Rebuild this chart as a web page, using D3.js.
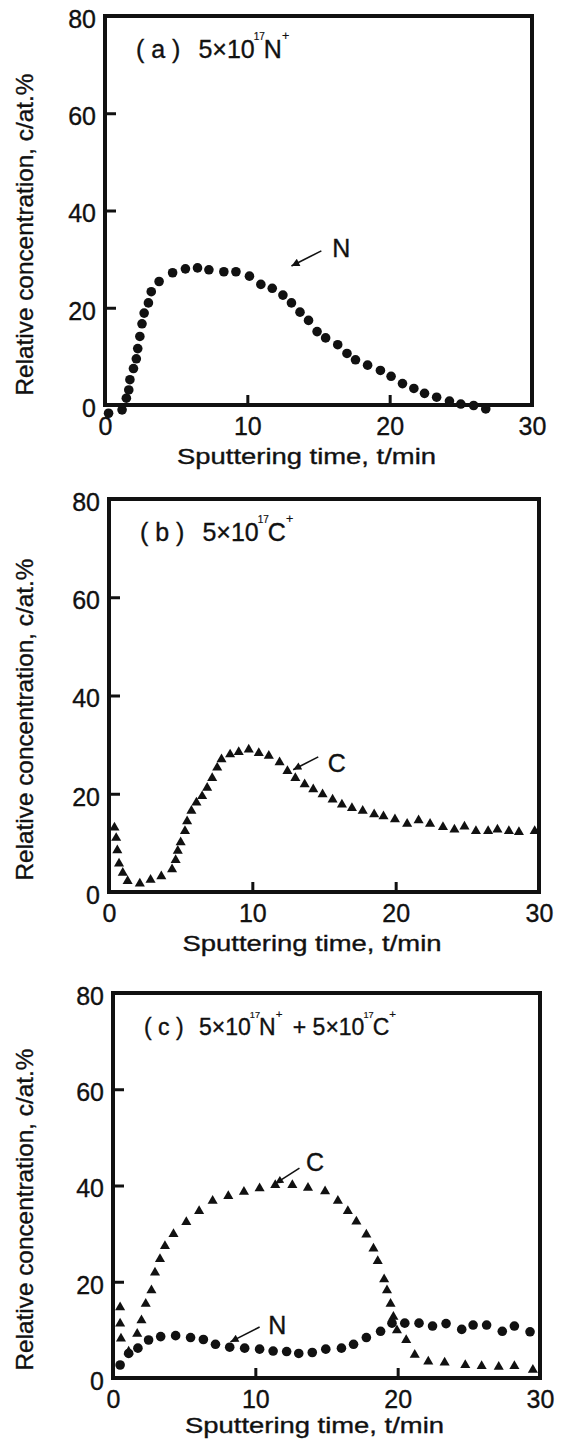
<!DOCTYPE html>
<html>
<head>
<meta charset="utf-8">
<script src="https://cdn.jsdelivr.net/npm/d3@7"></script>
<style>
    body { margin: 0; background: #fff; }
    svg { display: block; background: #fff; }
    text { font-family: 'Liberation Sans', Arial, sans-serif; fill: #111; stroke: #111; stroke-width: 0.35; }
    .frame { fill: none; stroke: #111; stroke-width: 4; }
    .axis .domain { display: none; }
    .axis line { stroke: #111; stroke-width: 3; }
    .axis text { font-size: 25px; }
    .mark { fill: #111; }
    .pointer { stroke: #111; stroke-width: 1.6; }
</style>
</head>
<body>
<svg id="svg" width="562" height="1440"></svg>
<script>
// (a) 5x10^17 N+ : nitrogen profile
const timeA = [0.25, 1.2, 1.5, 1.67, 1.75, 2.0, 2.2, 2.3, 2.45, 2.6, 2.75, 3.05, 3.25, 3.8, 4.75,
    5.65, 6.5, 7.3, 8.35, 9.2, 10.15, 10.95, 11.75, 12.5, 13.1, 13.7, 14.3, 14.9, 15.5, 16.35,
    17.0, 17.6, 18.45, 19.35, 20.1, 20.9, 21.7, 22.45, 23.3, 24.2, 25.0, 25.9, 26.75];
const nitrogenA = [-1.7, -1.0, 1.4, 3.1, 5.2, 7.5, 9.5, 11.6, 14.1, 16.7, 18.9, 21.0, 23.3, 25.4, 27.2,
    28.0, 28.2, 27.8, 27.4, 27.4, 26.5, 24.8, 24.0, 22.6, 21.0, 19.1, 17.4, 15.1, 13.8, 12.4,
    10.6, 9.3, 8.2, 7.1, 5.9, 4.4, 3.4, 2.4, 1.6, 0.8, 0.2, -0.1, -0.8];

// (b) 5x10^17 C+ : carbon profile
const timeB = [0.38, 0.5, 0.58, 0.7, 0.96, 1.3, 2.15, 2.9, 3.65, 4.4, 4.65, 4.8, 5.0, 5.3, 5.45,
    5.75, 6.1, 6.5, 6.85, 7.2, 7.55, 7.85, 8.45, 9.05, 9.75, 10.45, 11.15, 11.9, 12.45, 13.0,
    13.65, 14.25, 14.9, 15.6, 16.25, 16.95, 17.7, 18.5, 19.15, 19.95, 20.8, 21.6, 22.4, 23.3,
    24.1, 24.8, 25.6, 26.45, 27.1, 27.9, 28.6, 29.7];
const carbonB = [13.1, 11.0, 8.5, 5.8, 3.9, 2.2, 1.7, 2.5, 3.2, 4.6, 6.5, 8.4, 10.1, 12.4, 14.4,
    16.5, 18.2, 19.5, 21.2, 23.2, 25.3, 27.0, 28.0, 28.5, 29.0, 28.3, 27.7, 26.4, 24.6, 23.2,
    21.9, 20.9, 19.9, 18.8, 17.8, 17.1, 16.5, 15.8, 15.4, 14.8, 13.9, 14.6, 13.9, 13.2,
    12.7, 13.3, 12.4, 12.4, 12.7, 12.4, 12.2, 12.4];

// (c) 5x10^17 N+ + 5x10^17 C+ : both profiles
const timeCC = [0.5, 0.5, 0.56, 1.1, 1.7, 2.0, 2.3, 2.7, 2.95, 3.3, 3.65, 4.25, 5.15, 6.05, 7.0,
    8.1, 9.2, 10.3, 11.4, 12.6, 13.7, 14.9, 15.8, 16.5, 17.1, 17.8, 18.3, 18.6, 19.05, 19.25,
    19.5, 19.7, 19.95, 20.6, 21.2, 22.15, 23.3, 24.75, 25.9, 27.1, 28.2, 29.5];
const carbonC = [14.7, 11.3, 8.2, 5.5, 9.2, 12.0, 15.4, 18.2, 21.9, 24.7, 27.4, 29.9, 32.4, 34.7, 36.8,
    37.8, 38.7, 39.4, 40.1, 40.1, 39.5, 38.8, 36.8, 34.7, 32.5, 29.8, 26.9, 24.3, 20.5, 18.2,
    15.4, 12.7, 9.9, 7.9, 4.8, 3.4, 3.2, 2.7, 2.5, 2.3, 2.5, 1.7];
const timeCN = [0.5, 1.1, 1.75, 2.5, 3.35, 4.4, 5.45, 6.35, 7.2, 8.2, 9.25, 10.3, 11.25, 12.2, 13.05,
    14.0, 14.95, 16.05, 16.9, 17.8, 18.8, 19.6, 20.5, 21.5, 22.45, 23.4, 24.5, 25.3, 26.25,
    27.35, 28.2, 29.3];
const nitrogenC = [2.7, 5.1, 6.2, 7.9, 8.6, 8.8, 8.4, 8.0, 7.0, 6.4, 6.2, 6.0, 5.6, 5.5, 5.1,
    5.3, 6.0, 6.2, 7.0, 8.4, 9.7, 11.4, 11.4, 11.4, 10.8, 11.3, 10.1, 11.0, 11.0,
    9.7, 10.8, 9.6];

// axes
const xTicks = [0, 10, 20, 30];
const yTicks = [0, 20, 40, 60, 80];
const xTitle = 'Sputtering time, t/min';
const yTitle = 'Relative concentration, c/at.%';

// arrow labels: [label, textX, textY, fromX, fromY, toX, toY] in data units
const notesA = [['N', 16.6, 32.3, 15.2, 31.7, 13.1, 28.6]];
const notesB = [['C', 15.9, 26.3, 14.6, 27.5, 12.85, 24.9]];
const notesC = [['C', 14.2, 44.8, 13.1, 43.6, 11.4, 40.4], ['N', 11.55, 11.0, 10.3, 10.6, 8.25, 7.5]];

// panel titles, sup = superscript
const titleA = [{t: '( a ) '}, {t: '5×10', dx: 11}, {sup: '17'}, {t: 'N', dx: -1}, {sup: '+'}];
const titleB = [{t: '( b ) '}, {t: '5×10', dx: 11}, {sup: '17'}, {t: 'C', dx: -1}, {sup: '+'}];
const titleC = [{t: '( c ) '}, {t: '5×10', dx: 9}, {sup: '17'}, {t: 'N', dx: -1}, {sup: '+'},
    {t: ' + 5×10', dx: 4}, {sup: '17'}, {t: 'C', dx: -1}, {sup: '+'}];

const panels = [
    {left: 105, right: 532, top: 16, bottom: 405, title: titleA, titleSize: 25, notes: notesA,
        series: [{x: timeA, y: nitrogenA, shape: 'circle'}]},
    {left: 109, right: 539, top: 499, bottom: 892, title: titleB, titleSize: 25, notes: notesB,
        series: [{x: timeB, y: carbonB, shape: 'triangle'}]},
    {left: 113, right: 540, top: 993, bottom: 1378, title: titleC, titleSize: 23, notes: notesC,
        series: [{x: timeCC, y: carbonC, shape: 'triangle'}, {x: timeCN, y: nitrogenC, shape: 'circle'}]},
];

const svg = d3.select('#svg');

svg.append('defs').append('marker')
    .attr('id', 'arrow')
    .attr('viewBox', '0 0 10 10')
    .attr('refX', 10)
    .attr('refY', 5)
    .attr('markerWidth', 11)
    .attr('markerHeight', 8)
    .attr('markerUnits', 'userSpaceOnUse')
    .attr('orient', 'auto')
  .append('path')
    .attr('d', 'M0,0L10,5L0,10Z')
    .attr('fill', '#111');

const triangle = d3.symbol().type(d3.symbolTriangle).size(44);

panels.forEach(p => {
    const g = svg.append('g');
    const x = d3.scaleLinear().domain([0, 30]).range([p.left, p.right]);
    const y = d3.scaleLinear().domain([0, 80]).range([p.bottom, p.top]);

    // inward ticks, left and bottom only
    const yAxis = g.append('g')
        .attr('class', 'axis')
        .attr('transform', 'translate(' + p.left + ',0)')
        .call(d3.axisLeft(y).tickValues(yTicks).tickSize(-11).tickPadding(9));
    yAxis.selectAll('text').attr('dy', '0.45em');

    const xAxis = g.append('g')
        .attr('class', 'axis')
        .attr('transform', 'translate(0,' + p.bottom + ')')
        .call(d3.axisBottom(x).tickValues(xTicks).tickSize(-10).tickPadding(12));

    yAxis.selectAll('.tick line').filter(d => d === 0 || d === 80).remove();
    xAxis.selectAll('.tick line').filter(d => d === 0 || d === 30).remove();

    g.append('rect')
        .attr('class', 'frame')
        .attr('x', p.left)
        .attr('y', p.top)
        .attr('width', p.right - p.left)
        .attr('height', p.bottom - p.top);

    // axis titles
    g.append('text')
        .attr('transform', 'translate(33,' + ((p.top + p.bottom) / 2 + 24) + ') rotate(-90)')
        .attr('text-anchor', 'middle')
        .attr('font-size', 24)
        .attr('textLength', 322)
        .attr('lengthAdjust', 'spacingAndGlyphs')
        .text(yTitle);

    g.append('text')
        .attr('x', (p.left + p.right) / 2 - 12)
        .attr('y', Math.min(p.bottom + 59, 1433))
        .attr('text-anchor', 'middle')
        .attr('font-size', 22)
        .attr('textLength', 259)
        .attr('lengthAdjust', 'spacingAndGlyphs')
        .text(xTitle);

    // panel title with superscripts
    const s = p.titleSize;
    const title = g.append('text')
        .attr('x', p.left + 31)
        .attr('y', p.top + 42)
        .attr('font-size', s);
    let raised = false;
    p.title.forEach(part => {
        const span = title.append('tspan');
        if (part.sup) {
            span.attr('font-size', part.sup === '+' ? s * 0.5 : s * 0.4)
                .attr('dy', raised ? 0 : -s * 0.72)
                .attr('dx', part.sup === '+' ? 0 : -1)
                .attr('stroke-width', 0.2)
                .text(part.sup);
            raised = true;
        } else {
            span.attr('dy', raised ? s * 0.72 : 0)
                .attr('dx', part.dx || 0)
                .text(part.t);
            raised = false;
        }
    });

    // data
    p.series.forEach(ser => {
        const pts = ser.x.map((t, i) => [t, ser.y[i]]);
        if (ser.shape === 'circle') {
            g.append('g').selectAll('circle')
                .data(pts)
                .join('circle')
                .attr('class', 'mark')
                .attr('cx', d => x(d[0]))
                .attr('cy', d => y(d[1]))
                .attr('r', 4.8);
        } else {
            g.append('g').selectAll('path')
                .data(pts)
                .join('path')
                .attr('class', 'mark')
                .attr('transform', d => 'translate(' + x(d[0]) + ',' + y(d[1]) + ')')
                .attr('d', triangle);
        }
    });

    // element labels with arrows
    p.notes.forEach(n => {
        g.append('line')
            .attr('class', 'pointer')
            .attr('x1', x(n[3]))
            .attr('y1', y(n[4]))
            .attr('x2', x(n[5]))
            .attr('y2', y(n[6]))
            .attr('marker-end', 'url(#arrow)');
        g.append('text')
            .attr('x', x(n[1]))
            .attr('y', y(n[2]))
            .attr('text-anchor', 'middle')
            .attr('dy', '0.36em')
            .attr('font-size', 25)
            .text(n[0]);
    });
});
</script>
</body>
</html>
